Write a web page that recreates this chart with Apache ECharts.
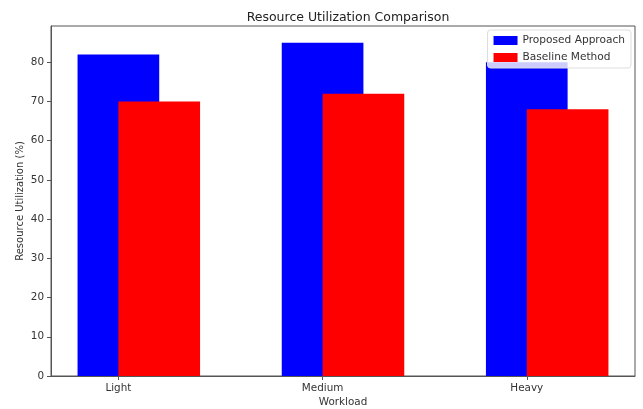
<!DOCTYPE html>
<html>
<head>
<meta charset="utf-8">
<script src="https://cdn.jsdelivr.net/npm/echarts@6/dist/echarts.min.js"></script>
<style>html,body{margin:0;padding:0;background:#fff}#c{width:643px;height:409px}</style>
</head>
<body>
<div id="c"></div>
<script>
const categories = ["Light", "Medium", "Heavy"];
const proposed = [82, 85, 80];
const baseline = [70, 72, 68];
const yTicks = [0, 10, 20, 30, 40, 50, 60, 70, 80];

const BAR_W = 0.4;
const FONT = "DejaVu Sans";

function barRenderer(offset, color) {
  return function (params, api) {
    const x = api.value(0) + offset;
    const y = api.value(1);
    const p0 = api.coord([x - BAR_W / 2, y]);
    const p1 = api.coord([x + BAR_W / 2, 0]);
    return {
      type: 'rect',
      shape: { x: p0[0], y: p0[1], width: p1[0] - p0[0], height: p1[1] - p0[1] },
      style: { fill: color }
    };
  };
}

const chart = echarts.init(document.getElementById('c'), null, { renderer: 'canvas' });
chart.setOption({
  animation: false,
  backgroundColor: '#fff',
  textStyle: { fontFamily: FONT },
  title: {
    text: 'Resource Utilization Comparison',
    left: 343, top: 6, textAlign: 'center',
    textStyle: { fontFamily: FONT, fontSize: 12.5, fontWeight: 'normal', color: '#222' }
  },
  legend: {
    right: 12, top: 30, orient: 'vertical',
    itemWidth: 24, itemHeight: 9, itemGap: 6,
    padding: [5, 6, 5, 6],
    borderColor: '#ddd', borderWidth: 1, borderRadius: 3, backgroundColor: 'rgba(255,255,255,0.8)',
    textStyle: { fontFamily: FONT, fontSize: 10.6, color: '#333' },
    data: [{ name: 'Proposed Approach', icon: 'rect' }, { name: 'Baseline Method', icon: 'rect' }]
  },
  grid: { left: 51, right: 8, top: 26, bottom: 33, containLabel: false, outerBoundsMode: 'none', show: true, borderColor: '#555', borderWidth: 1, backgroundColor: 'transparent' },
  xAxis: {
    type: 'value', min: -0.33, max: 2.53,
    name: 'Workload', nameLocation: 'middle', nameGap: 21, nameMoveOverlap: false,
    nameTextStyle: { fontFamily: FONT, fontSize: 10.4, color: '#333' },
    axisLine: { show: true, onZero: false, lineStyle: { color: '#555' } },
    axisTick: { show: true, length: 4, lineStyle: { color: '#555' }, customValues: [0, 1, 2] },
    axisLabel: { fontFamily: FONT, fontSize: 10.4, color: '#333', margin: 7, customValues: [0, 1, 2], formatter: v => categories[Math.round(v)] },
    splitLine: { show: false }
  },
  yAxis: {
    type: 'value', min: 0, max: 89.25,
    name: 'Resource Utilization (%)', nameLocation: 'middle', nameGap: 26, nameMoveOverlap: false,
    nameTextStyle: { fontFamily: FONT, fontSize: 10, color: '#333' },
    axisLine: { show: true, onZero: false, lineStyle: { color: '#555' } },
    axisTick: { show: true, length: 4, lineStyle: { color: '#555' }, customValues: yTicks },
    axisLabel: { fontFamily: FONT, fontSize: 10.4, color: '#333', margin: 7, customValues: yTicks },
    splitLine: { show: false }
  },
  series: [
    {
      name: 'Proposed Approach', type: 'custom', itemStyle: { color: '#0000ff' },
      renderItem: barRenderer(0, '#0000ff'),
      encode: { x: 0, y: 1 },
      data: proposed.map((v, i) => [i, v])
    },
    {
      name: 'Baseline Method', type: 'custom', itemStyle: { color: '#ff0000' },
      renderItem: barRenderer(BAR_W / 2, '#ff0000'),
      encode: { x: 0, y: 1 },
      data: baseline.map((v, i) => [i, v])
    }
  ]
});
</script>
</body>
</html>
